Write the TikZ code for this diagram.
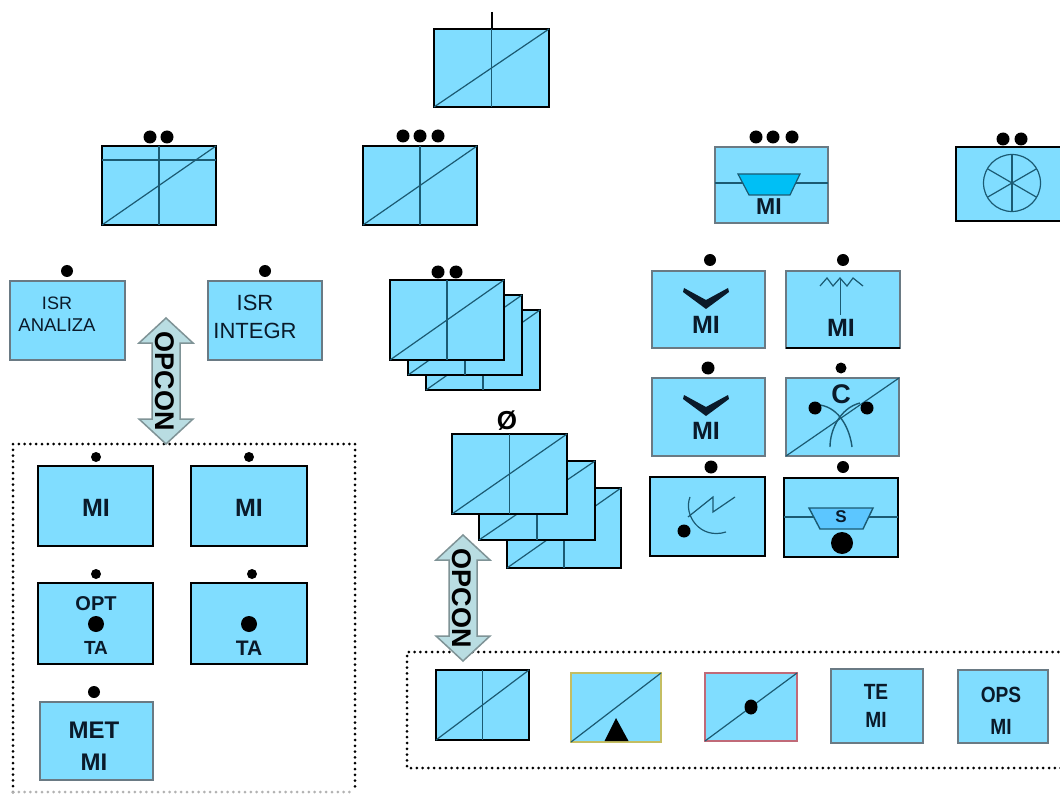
\documentclass[tikz,border=0pt]{standalone}
\usepackage{fontspec}
\setmainfont{Liberation Sans}
\definecolor{ubg}{HTML}{80DDFF}
\definecolor{uink}{HTML}{0A1A2A}
\definecolor{ugrey}{HTML}{6A7A84}
\definecolor{uline}{HTML}{1B5A72}
\definecolor{uarrow}{HTML}{B9DDE2}
\definecolor{uarrowb}{HTML}{7F9396}
\definecolor{ucyan}{HTML}{00BFF5}
\definecolor{ucyan2}{HTML}{5CC6FF}
\definecolor{uolive}{HTML}{C4BE62}
\definecolor{upink}{HTML}{C06A78}
\newcommand{\fs}[1]{\fontsize{#1}{#1}\selectfont}
% name, x1, y1, x2, y2, style
\newcommand{\ubox}[6]{\node[unitbox,#6,anchor=north west,minimum width={(#4-#2)*1pt},minimum height={(#5-#3)*1pt}] (#1) at (#2,#3) {};}
\newcommand{\udiag}[1]{\draw[inner] (#1.south west) -- (#1.north east);}
\newcommand{\uvert}[1]{\draw[inner] (#1.north) -- (#1.south);}
\newcommand{\udot}[3]{\fill[black] (#1,#2) circle[radius=#3];}
\newcommand{\uchev}[2]{\fill[uink] (#1-22,#2) -- (#1,#2+12) -- (#1+22,#2) -- (#1+23,#2+4) -- (#1,#2+21) -- (#1-23,#2+4) -- cycle;}
\newcommand{\opcon}[3]{% name, centre x, top y
  \draw[arrowshape] (#2,#3) -- (#2+27,#3+25) -- (#2+14,#3+25) -- (#2+14,#3+101) -- (#2+27,#3+101) -- (#2,#3+126)
    -- (#2-27,#3+101) -- (#2-14,#3+101) -- (#2-14,#3+25) -- (#2-27,#3+25) -- cycle;
  \node[rotate=-90,inner sep=0pt,text=black,font=\bfseries\fs{27}] (#1) at (#2-1,#3+63) {OPCON};}
\tikzset{
  unitbox/.style={fill=ubg,inner sep=0pt,outer sep=0pt},
  hard/.style={draw=black,line width=2.5pt},
  soft/.style={draw=ugrey,line width=2pt},
  inner/.style={draw=uline,line width=1.2pt},
  dotted box/.style={draw=black,line width=3pt,line cap=round,dash pattern=on 0pt off 5.8pt},
  arrowshape/.style={fill=uarrow,draw=uarrowb,line width=1.5pt,line join=miter},
  lab/.style={inner sep=0pt,text=uink,font=\bfseries},
  lite/.style={inner sep=0pt,text=uink},
}
\begin{document}
\begin{tikzpicture}[x=1pt,y=-1pt]
\useasboundingbox (0,0) rectangle (1060,794);
\clip (0,0) rectangle (1060,794);
\fill[white] (0,0) rectangle (1060,794);

% top
\draw[line width=2.5pt,black] (492,12) -- (492,29);
\ubox{top}{434}{29}{549}{107}{hard}\udiag{top}\uvert{top}

% second row
\ubox{bde}{102}{146}{216}{225}{hard}\udiag{bde}\uvert{bde}
\draw[inner] (bde.north west |- 0,160) -- (bde.north east |- 0,160);
\udot{150}{137}{6.5}\udot{167}{137}{6.5}
\ubox{reg}{363}{146}{477}{225}{hard}\udiag{reg}\uvert{reg}
\udot{403}{136}{6.5}\udot{420}{136}{6.5}\udot{438}{136}{6.5}

\ubox{eng}{715}{147}{828}{223}{soft}
\draw[inner] (eng.west |- 0,183) -- (eng.east |- 0,183);
\draw[fill=ucyan,draw=uline,line width=1.2pt] (738,174) -- (800,174) -- (790,195) -- (749,195) -- cycle;
\node[lab,font=\bfseries\fs{23}] (engt) at (769,207) {MI};
\udot{756}{137}{6.5}\udot{773}{137}{6.5}\udot{792}{137}{6.5}

\ubox{whl}{956}{147}{1075}{221}{hard}
\draw[inner] (1012,183) circle[radius=28.5];
\draw[inner] (1012,154.5) -- (1012,211.5);
\draw[inner] (987.3,168.7) -- (1036.7,197.3);
\draw[inner] (987.3,197.3) -- (1036.7,168.7);
\udot{1003}{139}{6.5}\udot{1021}{139}{6.5}

% ISR
\ubox{isa}{10}{281}{125}{360}{soft}
\udot{67}{271}{6}
\node[lite,font=\fs{18}] (isat) at (57,303) {ISR};
\node[lite,font=\fs{18.5}] (isab) at (57,325) {ANALIZA};
\ubox{isi}{208}{281}{322}{360}{soft}
\udot{265}{271}{6}
\node[lite,font=\fs{22}] (isit) at (255,303) {ISR};
\node[lite,font=\fs{22}] (isib) at (255,331) {INTEGR};

% stack 1
\ubox{s1c}{426}{310}{540}{390}{hard}\udiag{s1c}\uvert{s1c}
\ubox{s1b}{408}{295}{522}{375}{hard}\udiag{s1b}\uvert{s1b}
\ubox{s1a}{390}{280}{504}{360}{hard}\udiag{s1a}\uvert{s1a}
\udot{438}{272}{6.5}\udot{456}{272}{6.5}

% stack 2
\ubox{s2c}{507}{488}{621}{568}{hard}\udiag{s2c}\uvert{s2c}
\ubox{s2b}{479}{461}{595}{540}{hard}\udiag{s2b}\uvert{s2b}
\ubox{s2a}{452}{434}{567}{514}{hard}\udiag{s2a}\uvert{s2a}
\node[inner sep=0pt,font=\bfseries\fs{26},text=black] (zero) at (507,421) {Ø};

% right column
\ubox{r1}{652}{271}{765}{348}{soft}
\udot{710}{260}{6}\uchev{706}{288}
\node[lab,font=\bfseries\fs{25}] (r1t) at (706,325) {MI};
\ubox{r2}{786}{271}{900}{348}{soft}
\draw[draw=black,line width=2pt] (786,348) -- (900,348);
\udot{843}{260}{6}
\draw[inner] (820,286) -- (827,278) -- (833,286) -- (840,278) -- (847,286) -- (853,278) -- (863,286);
\draw[inner,line width=1.4pt] (840.5,278) -- (840.5,315);
\node[lab,font=\bfseries\fs{25}] (r2t) at (841,328) {MI};

\ubox{r3}{652}{378}{765}{456}{soft}
\udot{708}{368}{6.5}\uchev{706}{395}
\node[lab,font=\bfseries\fs{25}] (r3t) at (706,431) {MI};
\ubox{r4}{786}{378}{899}{456}{soft}
\udiag{r4}
\udot{841}{368}{5.5}
\node[lab,font=\bfseries\fs{27}] (r4t) at (841,394) {C};
\draw[inner,line width=1.4pt] (820,405) .. controls (840,408) and (850,430) .. (852,447);
\draw[inner,line width=1.4pt] (860,403) .. controls (840,408) and (830,430) .. (830,447);
\udot{815}{408}{6.5}\udot{867}{408}{6.5}

\ubox{r5}{650}{477}{765}{556}{hard}
\udot{711}{467}{6.5}
\udot{684}{531}{6.5}
\draw[inner] (690,497) .. controls (683,515) and (700,540) .. (726,532);
\draw[inner] (688,517) -- (713,497) -- (713,512) -- (735,497);
\ubox{r6}{784}{478}{898}{557}{hard}
\udot{843}{467}{6}
\draw[draw=uline,line width=1.4pt] (r6.west |- 0,517) -- (r6.east |- 0,517);
\draw[fill=ucyan2,draw=uline,line width=1.4pt] (809,508) -- (873,508) -- (863,529) -- (820,529) -- cycle;
\node[lab,font=\bfseries\fs{17}] (r6t) at (841,517) {S};
\udot{842}{543}{11}

% left dotted group
\draw[dotted box] (13,792) -- (13,444) -- (355,444) -- (355,792);
\draw[dotted box,black!30] (13,792) -- (355,792);
\ubox{l1}{38}{466}{153}{546}{hard}
\udot{96}{457}{5}
\node[lab,font=\bfseries\fs{25}] (l1t) at (96,508) {MI};
\ubox{l2}{191}{466}{307}{546}{hard}
\udot{249}{457}{5}
\node[lab,font=\bfseries\fs{25}] (l2t) at (249,508) {MI};
\ubox{l3}{38}{583}{153}{664}{hard}
\udot{96}{574}{5}
\node[lab,font=\bfseries\fs{20}] (l3t) at (96,604) {OPT};
\udot{96}{624}{8}
\node[lab,font=\bfseries\fs{19}] (l3b) at (96,648) {TA};
\ubox{l4}{191}{583}{307}{664}{hard}
\udot{252}{574}{5}
\udot{249}{624}{8}
\node[lab,font=\bfseries\fs{21}] (l4b) at (249,648) {TA};
\ubox{l5}{40}{702}{153}{780}{soft}
\udot{94}{692}{6}
\node[lab,font=\bfseries\fs{24}] (l5t) at (94,730) {MET};
\node[lab,font=\bfseries\fs{24}] (l5b) at (94,762) {MI};

% right dotted group
\draw[dotted box] (1070,652) -- (407,652) -- (407,768) -- (1070,768);
\ubox{b1}{436}{670}{529}{740}{hard}\udiag{b1}\uvert{b1}
\ubox{b2}{571}{673}{661}{742}{draw=uolive,line width=2pt}\udiag{b2}
\fill[black] (616,718) -- (628.5,741) -- (604.5,741) -- cycle;
\ubox{b3}{705}{673}{797}{741}{draw=upink,line width=2pt}\udiag{b3}
\fill[black] (751,707) ellipse[x radius=6.5,y radius=7.5];
\ubox{b4}{831}{669}{923}{743}{soft}
\node[lab,font=\bfseries\fs{22},xscale=.87] (b4t) at (876,692) {TE};
\node[lab,font=\bfseries\fs{22},xscale=.87] (b4b) at (876,720) {MI};
\ubox{b5}{958}{670}{1048}{743}{soft}
\node[lab,font=\bfseries\fs{22},xscale=.87] (b5t) at (1001,695) {OPS};
\node[lab,font=\bfseries\fs{22},xscale=.87] (b5b) at (1001,727) {MI};

% OPCON arrows
\opcon{op1}{166}{318}
\opcon{op2}{463}{535}
\end{tikzpicture}
\end{document}
